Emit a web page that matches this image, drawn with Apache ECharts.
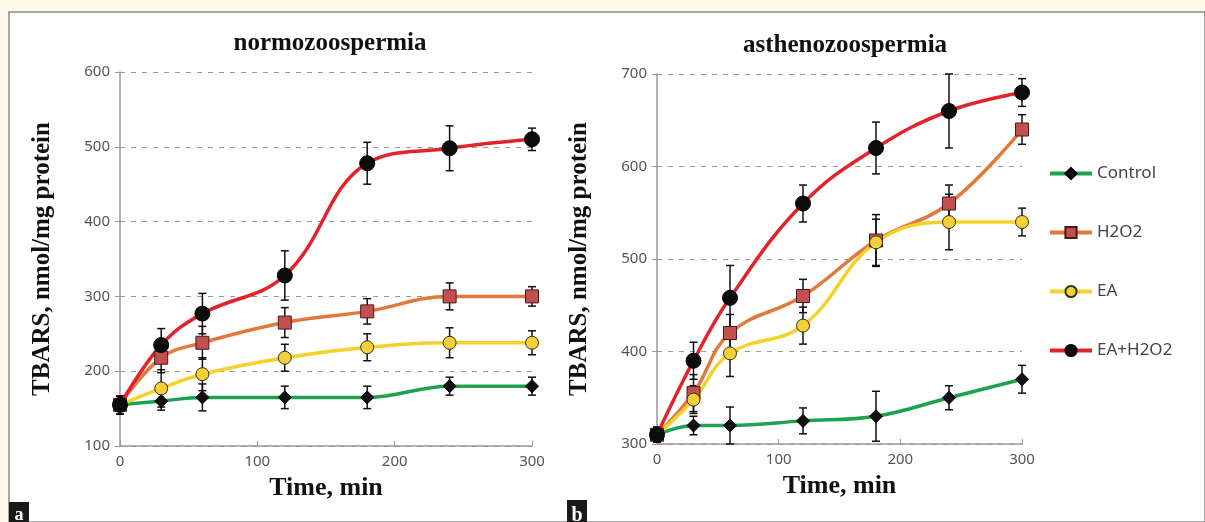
<!DOCTYPE html>
<html>
<head>
<meta charset="utf-8">
<script src="https://cdn.jsdelivr.net/npm/echarts@6/dist/echarts.min.js"></script>
<style>
  html, body { margin: 0; padding: 0; background: #fefae9; }
  #chart { width: 1205px; height: 522px; }
</style>
</head>
<body>
<div id="chart"></div>
<script>
const times = [0, 30, 60, 120, 180, 240, 300];
const seriesNames = ["Control", "H2O2", "EA", "EA+H2O2"];

// a: normozoospermia
const normControl = [155, 160, 165, 165, 165, 180, 180];
const normControlErr = [12, 12, 18, 15, 15, 12, 12];
const normH2O2 = [155, 218, 238, 265, 280, 300, 300];
const normH2O2Err = [12, 20, 22, 20, 17, 18, 13];
const normEA = [155, 177, 196, 218, 232, 238, 238];
const normEAErr = [12, 25, 22, 18, 18, 20, 16];
const normEAH2O2 = [155, 235, 277, 328, 478, 498, 510];
const normEAH2O2Err = [12, 22, 27, 33, 28, 30, 15];

// b: asthenozoospermia
const asthControl = [310, 320, 320, 325, 330, 350, 370];
const asthControlErr = [8, 10, 20, 14, 27, 13, 15];
const asthH2O2 = [310, 355, 420, 460, 520, 560, 640];
const asthH2O2Err = [8, 20, 20, 18, 28, 20, 16];
const asthEA = [310, 348, 398, 428, 518, 540, 540];
const asthEAErr = [8, 15, 25, 20, 25, 30, 15];
const asthEAH2O2 = [310, 390, 458, 560, 620, 660, 680];
const asthEAH2O2Err = [8, 20, 35, 20, 28, 40, 15];

const styles = {
  "Control": { line: "#1fa152", symbol: "diamond", size: 13, fill: "#111", border: "#000" },
  "H2O2": { line: "#e2793a", symbol: "rect", size: 13, fill: "#c3504f", border: "#4a1a1a" },
  "EA": { line: "#f4d22a", symbol: "circle", size: 13, fill: "#f3cf3a", border: "#3a3010" },
  "EA+H2O2": { line: "#e3232c", symbol: "circle", size: 15, fill: "#0c0c0c", border: "#000" }
};

const panels = [
  { idx: 0, values: [normControl, normH2O2, normEA, normEAH2O2],
    errs: [normControlErr, normH2O2Err, normEAErr, normEAH2O2Err] },
  { idx: 1, values: [asthControl, asthH2O2, asthEA, asthEAH2O2],
    errs: [asthControlErr, asthH2O2Err, asthEAErr, asthEAH2O2Err] }
];

const serif = "'Liberation Serif', 'DejaVu Serif', serif";
const sans = "'Noto Sans', 'Open Sans', sans-serif";

function errRender(params, api) {
  const x = api.value(0), v = api.value(1), e = api.value(2);
  const top = api.coord([x, v + e]);
  const bot = api.coord([x, v - e]);
  const cap = 4;
  const st = { stroke: "#111", lineWidth: 1.5 };
  return {
    type: "group",
    children: [
      { type: "line", shape: { x1: top[0], y1: top[1], x2: bot[0], y2: bot[1] }, style: st },
      { type: "line", shape: { x1: top[0] - cap, y1: top[1], x2: top[0] + cap, y2: top[1] }, style: st },
      { type: "line", shape: { x1: bot[0] - cap, y1: bot[1], x2: bot[0] + cap, y2: bot[1] }, style: st }
    ]
  };
}

const series = [];
panels.forEach(p => {
  seriesNames.forEach((name, i) => {
    const s = styles[name];
    series.push({
      type: "line",
      name: name,
      xAxisIndex: p.idx,
      yAxisIndex: p.idx,
      data: times.map((t, k) => [t, p.values[i][k]]),
      smooth: 0.4,
      symbol: s.symbol,
      symbolSize: s.size,
      lineStyle: { color: s.line, width: 3.5 },
      itemStyle: { color: s.fill, borderColor: s.border, borderWidth: 1 },
      z: 4
    });
    series.push({
      type: "custom",
      name: name + " error",
      xAxisIndex: p.idx,
      yAxisIndex: p.idx,
      renderItem: errRender,
      encode: { x: 0, y: 1 },
      data: times.map((t, k) => [t, p.values[i][k], p.errs[i][k]]),
      z: 3,
      silent: true
    });
  });
});

function xAxisCfg(gridIndex) {
  return {
    gridIndex: gridIndex,
    type: "value",
    min: 0, max: 300, interval: 100,
    name: "Time, min",
    nameLocation: "middle",
    nameGap: 29,
    nameTextStyle: { fontFamily: serif, fontWeight: "bold", fontSize: 26, color: "#111" },
    axisLine: { lineStyle: { color: "#999", width: 1.5 } },
    axisTick: { inside: true, length: 5, lineStyle: { color: "#999" } },
    axisLabel: { color: "#555", fontSize: 15, fontFamily: sans, margin: 8 },
    splitLine: { show: false }
  };
}
function yAxisCfg(gridIndex, min, max) {
  return {
    gridIndex: gridIndex,
    type: "value",
    min: min, max: max, interval: 100,
    name: "TBARS, nmol/mg protein",
    nameLocation: "middle",
    nameGap: 65,
    nameTextStyle: { fontFamily: serif, fontWeight: "bold", fontSize: 25, color: "#111" },
    axisLine: { show: true, lineStyle: { color: "#999", width: 1.5 } },
    axisTick: { show: true, length: 5, lineStyle: { color: "#999" } },
    axisLabel: { color: "#555", fontSize: 15, fontFamily: sans, margin: 10 },
    splitLine: { show: true, lineStyle: { color: "#999", type: [5, 6], width: 1.2 } }
  };
}

const chart = echarts.init(document.getElementById("chart"), null, { renderer: "canvas" });
chart.setOption({
  backgroundColor: "#fefae9",
  animation: false,
  graphic: [
    { type: "rect", shape: { x: 9, y: 12, width: 1196, height: 510 },
      style: { fill: "#ffffff", stroke: "#8a8a8a", lineWidth: 1.5 }, z: -10 },
    { type: "rect", shape: { x: 9, y: 502, width: 20, height: 20 }, style: { fill: "#1a1a1a" } },
    { type: "text", x: 19, y: 524, style: { text: "a", fill: "#fff", font: "bold 18px " + serif, align: "center", verticalAlign: "bottom" } },
    { type: "rect", shape: { x: 567, y: 500, width: 20, height: 22 }, style: { fill: "#1a1a1a" } },
    { type: "text", x: 577, y: 526, style: { text: "b", fill: "#fff", font: "bold 20px " + serif, align: "center", verticalAlign: "bottom" } }
  ],
  title: [
    { text: "normozoospermia", left: 325, top: 26, textAlign: "center",
      textStyle: { fontFamily: serif, fontWeight: "bold", fontSize: 25, color: "#111" } },
    { text: "asthenozoospermia", left: 840, top: 28, textAlign: "center",
      textStyle: { fontFamily: serif, fontWeight: "bold", fontSize: 25, color: "#111" } }
  ],
  legend: {
    data: seriesNames,
    orient: "vertical",
    left: 1043,
    top: 160,
    itemGap: 42,
    itemWidth: 42,
    itemHeight: 14,
    lineStyle: { width: 4 },
    textStyle: { color: "#444", fontSize: 17, fontFamily: sans },
    selectedMode: false
  },
  grid: [
    { left: 120, right: 673, top: 72, bottom: 76 },
    { left: 657, right: 183, top: 74, bottom: 78 }
  ],
  xAxis: [xAxisCfg(0), xAxisCfg(1)],
  yAxis: [yAxisCfg(0, 100, 600), yAxisCfg(1, 300, 700)],
  series: series
});
</script>
</body>
</html>
